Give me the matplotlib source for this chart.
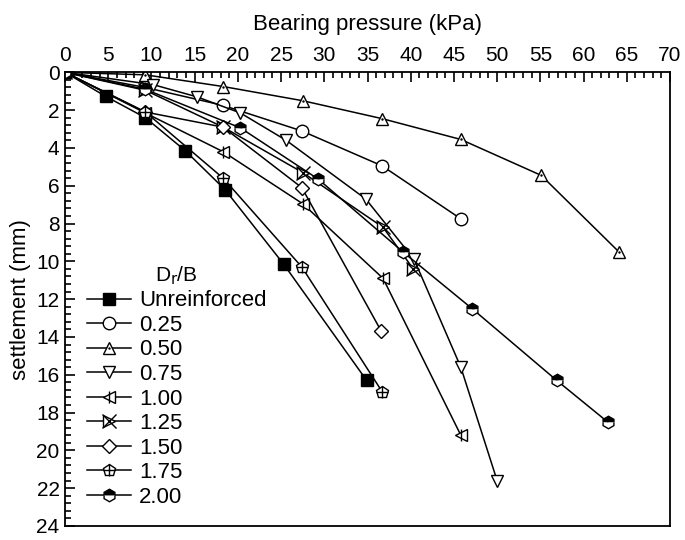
import matplotlib
matplotlib.use("Agg")
import matplotlib.pyplot as plt
from matplotlib.ticker import MultipleLocator
from matplotlib.legend_handler import HandlerTuple

plt.rcParams['font.family'] = ['Liberation Sans', 'DejaVu Sans']

# bearing pressure (kPa) and settlement (mm) for each D_r/B
unr_x = [0, 4.7, 9.3, 13.9, 18.5, 25.3, 34.9]
unr_y = [0, 1.27, 2.4, 4.14, 6.2, 10.15, 16.3]
d025_x = [0, 9.3, 18.3, 27.4, 36.7, 45.8]
d025_y = [0, 0.8, 1.75, 3.1, 4.95, 7.75]
d050_x = [0, 9.3, 18.3, 27.5, 36.7, 45.8, 55.1, 64.1]
d050_y = [0, 0.13, 0.75, 1.5, 2.45, 3.55, 5.45, 9.5]
d075_x = [0, 10.2, 15.3, 20.3, 25.6, 34.8, 40.4, 45.8, 50.0]
d075_y = [0, 0.65, 1.3, 2.15, 3.6, 6.7, 9.9, 15.6, 21.6]
d100_x = [0, 9.3, 18.3, 27.5, 36.8, 45.8]
d100_y = [0, 2.15, 4.2, 6.95, 10.9, 19.2]
d125_x = [0, 9.3, 18.3, 27.5, 36.8, 40.3]
d125_y = [0, 0.95, 2.9, 5.3, 8.2, 10.4]
d150_x = [0, 9.3, 18.3, 27.4, 36.6]
d150_y = [0, 2.1, 2.9, 6.1, 13.7]
d175_x = [0, 9.3, 18.3, 27.4, 36.7]
d175_y = [0, 2.1, 5.6, 10.3, 16.9]
d200_x = [0, 9.3, 20.3, 29.3, 39.1, 47.1, 56.9, 62.8]
d200_y = [0, 0.9, 2.94, 5.65, 9.5, 12.5, 16.3, 18.5]

labels = ['Unreinforced', '0.25', '0.50', '0.75', '1.00', '1.25', '1.50', '1.75', '2.00']

fig = plt.figure(figsize=(6.85, 5.4), dpi=100)
ax = fig.add_axes([0.095, 0.026, 0.883, 0.840])

lw = 1.1
ms = 9
base = dict(color='black', lw=lw, ms=ms, mec='black', mew=1.0)
over = dict(ls='none', color='black', mec='black', mew=1.0)

handles = []
h = ax.plot(unr_x, unr_y, marker='s', mfc='black', **{**base, 'ms': ms - 1})[0]
handles.append(h)
h = ax.plot(d025_x, d025_y, marker='o', mfc='white', **base)[0]
handles.append(h)
h1 = ax.plot(d050_x, d050_y, marker='^', mfc='white', **base)[0]
h2 = ax.plot(d050_x, d050_y, marker='.', ms=1.5, **over)[0]
handles.append((h1, h2))
h = ax.plot(d075_x, d075_y, marker='v', mfc='white', **base)[0]
handles.append(h)
h1 = ax.plot(d100_x, d100_y, marker='<', mfc='white', **base)[0]
h2 = ax.plot(d100_x, d100_y, marker='|', ms=ms, **over)[0]
handles.append((h1, h2))
h1 = ax.plot(d125_x, d125_y, marker='>', mfc='white', **base)[0]
h2 = ax.plot(d125_x, d125_y, marker='x', ms=ms + 1, **over)[0]
handles.append((h1, h2))
h = ax.plot(d150_x, d150_y, marker='D', mfc='white', **{**base, 'ms': ms - 2})[0]
handles.append(h)
h1 = ax.plot(d175_x, d175_y, marker='p', mfc='white', **base)[0]
h2 = ax.plot(d175_x, d175_y, marker='+', ms=ms - 1, **over)[0]
handles.append((h1, h2))
h = ax.plot(d200_x, d200_y, marker='h', fillstyle='top', mfc='black',
            markerfacecoloralt='white', **base)[0]
handles.append(h)

ax.set_xlim(0, 70)
ax.set_ylim(24, 0)
ax.xaxis.set_major_locator(MultipleLocator(5))
ax.xaxis.set_minor_locator(MultipleLocator(1))
ax.yaxis.set_major_locator(MultipleLocator(2))
ax.yaxis.set_minor_locator(MultipleLocator(0.4))
ax.xaxis.tick_top()
ax.xaxis.set_label_position('top')
ax.tick_params(which='both', direction='in', top=True, bottom=False,
               left=True, right=False, labelsize=15, width=1.2)
ax.tick_params(which='major', length=7, pad=5)
ax.tick_params(which='minor', length=4)
ax.tick_params(axis='y', pad=4)
for sp in ax.spines.values():
    sp.set_linewidth(1.3)

ax.set_xlabel('Bearing pressure (kPa)', fontsize=16, labelpad=12)
ax.set_ylabel('settlement (mm)', fontsize=16, labelpad=4)

leg = ax.legend(handles, labels, handler_map={tuple: HandlerTuple(ndivide=1)},
                loc='upper left', bbox_to_anchor=(0.036, 0.577), frameon=False,
                fontsize=16, title=r'D$_\mathrm{r}$/B', title_fontsize=15,
                handlelength=2.0, handletextpad=0.35, labelspacing=0.16,
                borderpad=0, borderaxespad=0)

fig.savefig('out.png', dpi=100)
